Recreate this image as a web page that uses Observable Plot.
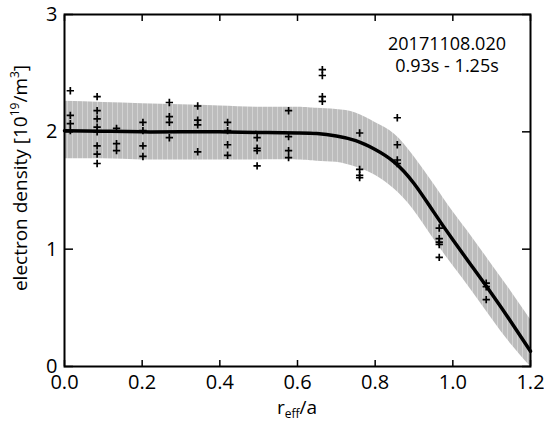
<!DOCTYPE html>
<html><head><meta charset="utf-8">
<script src="https://cdn.jsdelivr.net/npm/d3@7"></script>
<script src="https://cdn.jsdelivr.net/npm/@observablehq/plot@0.6"></script>
<style>body{margin:0;background:#fff} #chart{width:544px;height:421px}</style>
</head><body><div id="chart"></div>
<script>
// fitted profile and uncertainty band
const fitR  = [0, 0.1, 0.2, 0.3, 0.4, 0.5, 0.6, 0.65, 0.7, 0.75, 0.8, 0.85, 0.9, 0.95, 1.0, 1.05, 1.1, 1.15, 1.2];
const fitN  = [2.01, 2.005, 2.0, 2.0, 2.0, 1.995, 1.99, 1.985, 1.965, 1.925, 1.85, 1.74, 1.56, 1.32, 1.08, 0.85, 0.62, 0.38, 0.13];
const fitHi = [2.26, 2.25, 2.24, 2.23, 2.22, 2.21, 2.21, 2.2, 2.19, 2.16, 2.08, 1.98, 1.79, 1.56, 1.32, 1.10, 0.87, 0.64, 0.40];
const fitLo = [1.77, 1.77, 1.76, 1.76, 1.76, 1.76, 1.76, 1.75, 1.74, 1.70, 1.63, 1.51, 1.33, 1.09, 0.86, 0.64, 0.41, 0.19, 0.0];

// measured points
const pointR = [
  0.015, 0.015, 0.015, 0.015,
  0.084, 0.084, 0.084, 0.084, 0.084, 0.084, 0.084, 0.084,
  0.134, 0.134, 0.134,
  0.202, 0.202, 0.202, 0.202,
  0.270, 0.270, 0.270, 0.270,
  0.343, 0.343, 0.343, 0.343,
  0.420, 0.420, 0.420, 0.420,
  0.496, 0.496, 0.496, 0.496,
  0.577, 0.577, 0.577, 0.577,
  0.664, 0.664, 0.664, 0.664,
  0.760, 0.760, 0.760, 0.760,
  0.857, 0.857, 0.857, 0.857,
  0.965, 0.965, 0.965, 0.965, 0.965,
  1.086, 1.086, 1.086
];
const pointN = [
  2.35, 2.14, 2.07, 2.01,
  2.30, 2.18, 2.11, 2.04, 2.00, 1.88, 1.81, 1.73,
  2.03, 1.90, 1.84,
  2.08, 2.01, 1.88, 1.79,
  2.25, 2.13, 2.08, 1.95,
  2.22, 2.10, 2.06, 1.83,
  2.08, 2.01, 1.89, 1.80,
  1.95, 1.86, 1.84, 1.71,
  2.18, 1.96, 1.84, 1.78,
  2.53, 2.48, 2.30, 2.26,
  1.99, 1.68, 1.63, 1.61,
  2.12, 1.89, 1.76, 1.73,
  1.18, 1.09, 1.06, 1.04, 0.93,
  0.71, 0.68, 0.57
];

const xTicks = [0, 0.2, 0.4, 0.6, 0.8, 1.0, 1.2];
const yTicks = [0, 1, 2, 3];
const annotText = ["20171108.020", "0.93s - 1.25s"];
const annotX = [0.985, 0.985];
const annotY = [2.75, 2.56];

const fit = fitR.map((r, i) => ({r, n: fitN[i], hi: fitHi[i], lo: fitLo[i]}));
const points = pointR.map((r, i) => ({r, n: pointN[i]}));
const annot = annotText.map((t, i) => ({t, x: annotX[i], y: annotY[i]}));

const FONT = "'Open Sans', 'Noto Sans', sans-serif";

const svg = Plot.plot({
  width: 544, height: 421,
  marginLeft: 64, marginRight: 14, marginTop: 14, marginBottom: 55,
  style: {fontFamily: FONT, fontSize: "20px", color: "#000", background: "#fff", overflow: "visible"},
  x: {domain: [0, 1.2]},
  y: {domain: [0, 3]},
  marks: [
    Plot.areaY(fit, {x: "r", y1: "lo", y2: "hi", fill: "url(#stripes)", curve: "natural"}),
    Plot.line(fit, {x: "r", y: "n", stroke: "#000", strokeWidth: 3.5, curve: "natural"}),
    Plot.dot(points, {x: "r", y: "n", symbol: "plus", r: 2.5, stroke: "#000", strokeWidth: 1.7}),
    Plot.text(annot, {x: "x", y: "y", text: "t", fontSize: 18, fill: "#000"}),
    Plot.axisX({ticks: xTicks, tickFormat: d3.format(".1f"), tickSize: -6, tickPadding: 14, label: null, fontSize: 20, strokeWidth: 1.5}),
    Plot.axisX({anchor: "top", ticks: xTicks, tickFormat: () => "", tickSize: -6, tickPadding: 0, label: null, strokeWidth: 1.5}),
    Plot.axisY({ticks: yTicks, tickFormat: d3.format("d"), tickSize: -9, tickPadding: 16, label: null, fontSize: 20, strokeWidth: 1.5}),
    Plot.axisY({anchor: "right", ticks: yTicks, tickFormat: () => "", tickSize: -9, tickPadding: 0, label: null, strokeWidth: 1.5}),
    Plot.frame({stroke: "#000", strokeWidth: 2})
  ]
});

const s = d3.select(svg);
const pat = s.insert("defs", ":first-child").append("pattern")
  .attr("id", "stripes").attr("patternUnits", "userSpaceOnUse")
  .attr("width", 5).attr("height", 10);
pat.append("rect").attr("width", 5).attr("height", 10).attr("fill", "#bcbcbc");
pat.append("rect").attr("x", 2).attr("width", 1).attr("height", 10).attr("fill", "#d2d2d2");

// y axis label with superscripts
const yl = s.append("text")
  .attr("transform", "translate(27,178) rotate(-90)")
  .attr("text-anchor", "middle")
  .style("font-family", FONT).style("font-size", "19px").attr("fill", "#000");
yl.append("tspan").text("electron density [10");
yl.append("tspan").attr("dy", -8).style("font-size", "12px").text("19");
yl.append("tspan").attr("dy", 8).text("/m");
yl.append("tspan").attr("dy", -8).style("font-size", "12px").text("3");
yl.append("tspan").attr("dy", 8).text("]");

// x axis label with subscript
const xl = s.append("text")
  .attr("transform", "translate(297,414)")
  .attr("text-anchor", "middle")
  .style("font-family", FONT).style("font-size", "19px").attr("fill", "#000");
xl.append("tspan").text("r");
xl.append("tspan").attr("dy", 4).style("font-size", "12px").text("eff");
xl.append("tspan").attr("dy", -4).text("/a");

document.getElementById("chart").appendChild(svg);
</script>
</body></html>
